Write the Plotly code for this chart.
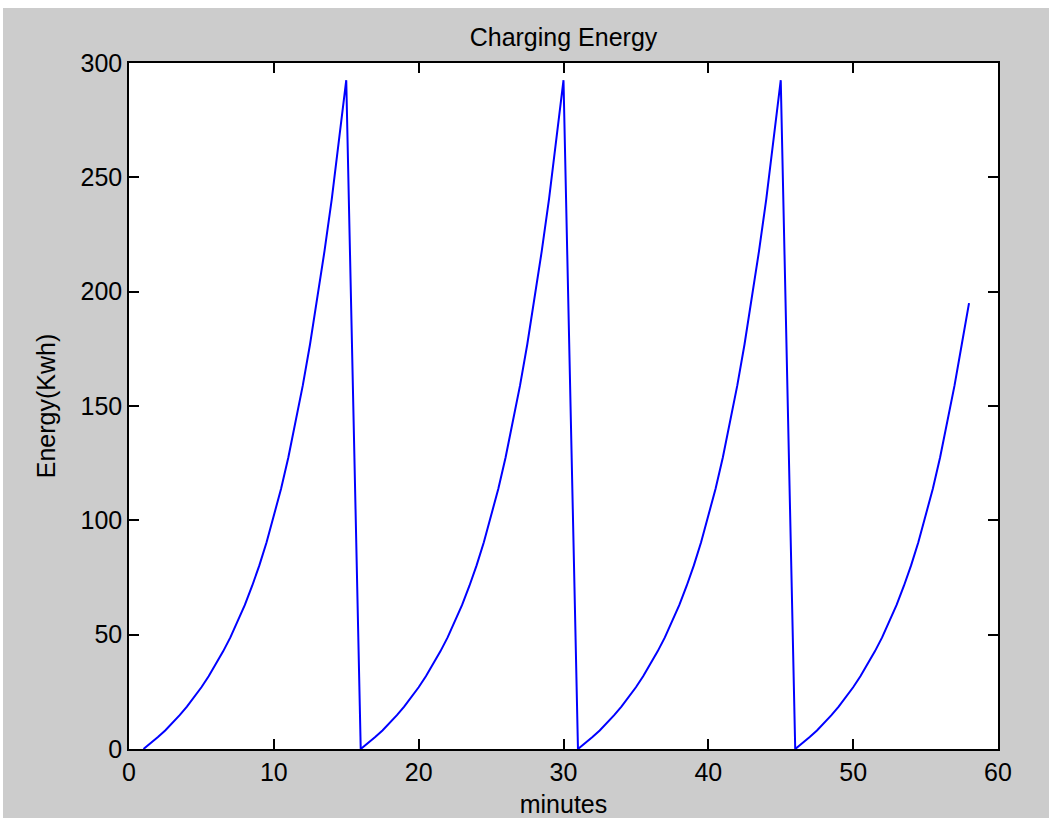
import plotly.graph_objects as go

# Minutes (half-minute samples) and charging energy (kWh)
minutes = [
    1.0, 1.5, 2.0, 2.5, 3.0, 3.5, 4.0, 4.5, 5.0, 5.5, 6.0, 6.5, 7.0, 7.5, 8.0,
    8.5, 9.0, 9.5, 10.0, 10.5, 11.0, 11.5, 12.0, 12.5, 13.0, 13.5, 14.0, 14.5, 15.0,
    16.0, 16.5, 17.0, 17.5, 18.0, 18.5, 19.0, 19.5, 20.0, 20.5, 21.0, 21.5, 22.0, 22.5, 23.0,
    23.5, 24.0, 24.5, 25.0, 25.5, 26.0, 26.5, 27.0, 27.5, 28.0, 28.5, 29.0, 29.5, 30.0,
    31.0, 31.5, 32.0, 32.5, 33.0, 33.5, 34.0, 34.5, 35.0, 35.5, 36.0, 36.5, 37.0, 37.5, 38.0,
    38.5, 39.0, 39.5, 40.0, 40.5, 41.0, 41.5, 42.0, 42.5, 43.0, 43.5, 44.0, 44.5, 45.0,
    46.0, 46.5, 47.0, 47.5, 48.0, 48.5, 49.0, 49.5, 50.0, 50.5, 51.0, 51.5, 52.0, 52.5, 53.0,
    53.5, 54.0, 54.5, 55.0, 55.5, 56.0, 56.5, 57.0, 57.5, 58.0,
]
energy_kwh = [
    0, 2.5, 5.2, 8.1, 11.3, 14.8, 18.5, 22.6, 27.0, 31.8, 37.0, 42.7, 48.8, 55.6, 63.0,
    71.3, 80.3, 90.4, 101.5, 113.8, 127.5, 142.6, 159.0, 177.0, 196.5, 217.8, 240.5, 265.5, 292.5,
    0, 2.5, 5.2, 8.1, 11.3, 14.8, 18.5, 22.6, 27.0, 31.8, 37.0, 42.7, 48.8, 55.6, 63.0,
    71.3, 80.3, 90.4, 101.5, 113.8, 127.5, 142.6, 159.0, 177.0, 196.5, 217.8, 240.5, 265.5, 292.5,
    0, 2.5, 5.2, 8.1, 11.3, 14.8, 18.5, 22.6, 27.0, 31.8, 37.0, 42.7, 48.8, 55.6, 63.0,
    71.3, 80.3, 90.4, 101.5, 113.8, 127.5, 142.6, 159.0, 177.0, 196.5, 217.8, 240.5, 265.5, 292.5,
    0, 2.5, 5.2, 8.1, 11.3, 14.8, 18.5, 22.6, 27.0, 31.8, 37.0, 42.7, 48.8, 55.6, 63.0,
    71.3, 80.3, 90.4, 101.5, 113.8, 127.5, 142.6, 159.0, 177.0, 195.0,
]

x_ticks = [0, 10, 20, 30, 40, 50, 60]
y_ticks = [0, 50, 100, 150, 200, 250, 300]

# figure sits at page offset (3, 8) inside a 1049x818 window
W, H = 1046, 810
L, R, T, B = 126, 51, 55, 69

FONT = "Liberation Sans, Arial, sans-serif"
FS = 25

fig = go.Figure()
fig.add_trace(go.Scatter(
    x=minutes, y=energy_kwh, mode="lines",
    line=dict(color="#0000FF", width=2),
    showlegend=False, hoverinfo="x+y",
))

axis_common = dict(
    showgrid=False, zeroline=False, automargin=False,
    showline=True, linecolor="#000000", linewidth=1.5, mirror="ticks",
    ticks="inside", ticklen=10, tickwidth=1.5, tickcolor="#000000",
    tickfont=dict(family=FONT, size=FS, color="#000000"),
)

fig.update_layout(
    width=W, height=H,
    margin=dict(l=L, r=R, t=T, b=B),
    paper_bgcolor="#CCCCCC",
    plot_bgcolor="#FFFFFF",
    title=dict(text="Charging Energy", x=(L + (W - L - R) / 2) / W, xanchor="center",
               y=1 - 29 / H, yanchor="middle", yref="container",
               font=dict(family=FONT, size=FS, color="#000000")),
    xaxis=dict(range=[0, 60], tickvals=x_ticks, ticktext=[str(v) for v in x_ticks],
               title=dict(text="minutes", standoff=12,
                          font=dict(family=FONT, size=FS, color="#000000")),
               **axis_common),
    yaxis=dict(range=[0, 300], tickvals=y_ticks, ticktext=[str(v) for v in y_ticks],
               title=dict(text="Energy(Kwh)", standoff=18,
                          font=dict(family=FONT, size=FS, color="#000000")),
               **axis_common),
)

fig.write_html("out.html", post_script="document.body.style.margin='8px 0 0 3px';")
